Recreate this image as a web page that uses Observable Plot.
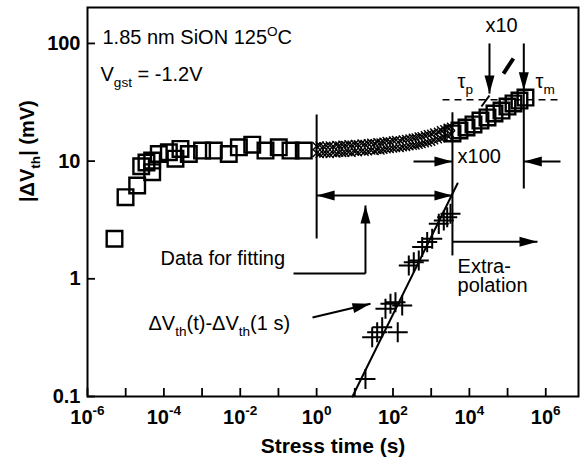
<!DOCTYPE html>
<html><head><meta charset="utf-8">
<script src="https://cdn.jsdelivr.net/npm/d3@7"></script>
<script src="https://cdn.jsdelivr.net/npm/@observablehq/plot@0.6"></script>
<style>body{margin:0;background:#fff;} svg{display:block;}</style>
</head><body><div id="chart"></div>
<script>
// ---- data ----
const xTicks = [1e-6,1e-5,1e-4,1e-3,1e-2,1e-1,1,10,100,1e3,1e4,1e5,1e6];
const xLabelTicks = [1e-6,1e-4,1e-2,1,100,1e4,1e6];
const xTickLabels = ["10^{-6}","10^{-4}","10^{-2}","10^{0}","10^{2}","10^{4}","10^{6}"];
const yTicks = [0.1,1,10,100];
const yTickLabels = ["0.1","1","10","100"];

// |dVth| squares
const squareT = [5.09e-6,9.9e-6,2.0e-5,2.55e-5,3.5e-5,4.94e-5,4.94e-5,7.36e-5,1.35e-4,2.01e-4,2.72e-4,4.5e-4,1.0e-3,2.03e-3,5.0e-3,9.2e-3,0.0206,0.0458,0.102,0.207,0.461,
  3.61e3,5.5e3,8.4e3,1.28e4,1.95e4,2.98e4,4.54e4,6.93e4,9.95e4,1.43e5,2.05e5,2.94e5];
const squareV = [2.19,4.94,6.21,9.05,9.73,10.1,8.05,11.5,11.9,10.5,12.7,11.5,12.3,12.3,11.5,13.1,13.8,12.3,13.1,12.3,12.3,
  17.2,18.2,19.3,20.5,22.1,23.5,25.4,26.9,29.1,30.9,32.7,34.7];

// dense "x" band (data for fitting)
const bandT = [1,1.2,1.5,1.8,2.2,2.7,3.3,3.9,4.7,5.6,6.8,8.2,10,12,15,18,22,27,33,39,47,56,68,82,100,120,150,180,220,270,330,390,470,560,680,820,1000,1200,1500,1800,2200,2700,3300];
const bandUpper = [13.4,13.6,13.3,13.5,13.6,13.4,13.7,13.6,13.8,13.7,13.9,13.8,14.0,13.9,14.1,14.0,14.2,14.3,14.2,14.5,14.4,14.6,14.8,14.7,15.0,15.1,15.0,15.3,15.4,15.6,15.8,15.9,16.2,16.3,16.6,16.9,17.1,17.5,17.8,18.3,18.7,19.2,19.6];
const bandLower = [11.7,11.5,11.6,11.6,11.5,11.7,11.6,11.8,11.7,11.8,11.9,11.8,12.0,11.9,12.1,12.0,12.1,12.3,12.2,12.4,12.3,12.5,12.6,12.7,12.8,12.9,12.9,13.1,13.2,13.4,13.5,13.6,13.8,14.0,14.2,14.4,14.6,15.0,15.3,15.6,16.0,16.4,16.8];

// dVth(t)-dVth(1s) pluses
const plusT = [19.0,28.5,38.5,52.1,133,63.5,85.9,116,174,259,350,473,581,785,1062,1581,2138,2624,3199];
const plusV = [0.141,0.319,0.352,0.388,0.352,0.556,0.614,0.633,0.593,1.30,1.38,1.43,1.86,2.05,2.19,2.93,3.13,3.34,3.57];

// power-law fit line end points
const fitT = [8.69, 4.89e3];
const fitV = [0.1, 6.46];

// annotation segments: [t1, v1, t2, v2]
const segments = [
  [1, 2.2, 1, 24.9],
  [3.6e3, 1.58, 3.6e3, 26.0],
  [2.66e5, 5.85, 2.66e5, 100],
  [3.36e4, 100, 3.36e4, 37.5],
  [3.36e4, 36.1, 2.07e4, 29.1],
  [344, 9.92, 3.6e3, 9.92],
  [2.43e6, 9.92, 2.66e5, 9.92],
  [1, 5.1, 3.6e3, 5.1],
  [0.248, 1.11, 19.0, 1.11],
  [19.0, 1.11, 19.0, 4.2],
  [3.6e3, 2.07, 6.07e5, 2.07],
  [0.78, 0.469, 25.7, 0.614]
];
const slashSeg = [[7.8e4, 55.5, 1.42e5, 74.5]];
const dashedSeg = [[1.98e3, 33.2, 2.74e6, 33.2]];
// arrow heads: [t, v, direction in degrees clockwise from up]
const heads = [
  [3.36e4, 37.5, 180], [2.66e5, 40, 180],
  [3.6e3, 9.92, 90], [2.66e5, 9.92, 270],
  [1, 5.1, 270], [3.6e3, 5.1, 90],
  [19.0, 4.2, 0], [6.07e5, 2.07, 90],
  [25.7, 0.614, 76]
];

// text annotations
const noteLabels = ["1.85 nm SiON 125^{O}C","V_{gst} = -1.2V","x10","τ_{p}","τ_{m}","x100","Data for fitting","ΔV_{th}(t)-ΔV_{th}(1 s)","Extra-\npolation"];
const noteT = [2.47e-6,2.19e-6,2.63e4,4.9e3,5.4e5,4.9e3,8.2e-5,3.95e-5,4.9e3];
const noteV = [98,48.4,124,42.2,42.2,9.56,1.30,0.364,0.766];

const xLabel = "Stress time (s)";
const yLabel = "|ΔV_{th}| (mV)";

// ---- build ----
const font = "'Liberation Sans', Arial, Helvetica, sans-serif";
const W = 583, H = 458, mt = 7, mr = 5, mb = 62, ml = 87;
const innerH = H - mt - mb, innerW = W - ml - mr;

const squares = squareT.map((t,i)=>({t, v: squareV[i]}));
const band = bandT.flatMap((t,i)=>[{t, v: bandUpper[i]}, {t, v: bandLower[i]}]);
const pluses = plusT.map((t,i)=>({t, v: plusV[i]}));
const fit = fitT.map((t,i)=>({t, v: fitV[i]}));
const seg = a => a.map(([x1,y1,x2,y2])=>({x1,y1,x2,y2}));
const notes = noteLabels.map((label,i)=>({label, t: noteT[i], v: noteV[i]}));
const xLab = new Map(xLabelTicks.map((t,i)=>[t, xTickLabels[i]]));
const yLab = new Map(yTicks.map((t,i)=>[t, yTickLabels[i]]));

function headSymbol(deg) {
  const a = deg * Math.PI / 180, c = Math.cos(a), s = Math.sin(a);
  const pts = [[0,0],[-5,18],[5,18]].map(([px,py]) => [px*c - py*s, px*s + py*c]);
  return {draw(ctx) { ctx.moveTo(...pts[0]); ctx.lineTo(...pts[1]); ctx.lineTo(...pts[2]); ctx.closePath(); }};
}
const headMarks = heads.map(([t,v,d]) => Plot.dot([{t,v}], {x:"t", y:"v", r: 5, symbol: headSymbol(d), fill: "black", stroke: "none"}));

const chart = Plot.plot({
  width: W, height: H,
  marginTop: mt, marginRight: mr, marginBottom: mb, marginLeft: ml,
  style: {fontFamily: font, background: "white", color: "black", overflow: "visible"},
  x: {type: "log", domain: [1e-6, 7.2e6], label: null},
  y: {type: "log", domain: [0.1, 202], label: null},
  marks: [
    Plot.frame({stroke: "black", strokeWidth: 2}),
    Plot.ruleX(xTicks, {x: d=>d, insetTop: innerH - 8, stroke: "black", strokeWidth: 1.8}),
    Plot.ruleY(yTicks, {y: d=>d, insetRight: innerW - 8, stroke: "black", strokeWidth: 1.8}),
    Plot.axisX(xLabelTicks, {tickSize: 0, tickPadding: 13, tickFormat: d => xLab.get(d), fontSize: 20, fontWeight: "bold", fontFamily: font, label: null}),
    Plot.axisY(yTicks, {tickSize: 0, tickPadding: 7, tickFormat: d => yLab.get(d), fontSize: 20, fontWeight: "bold", fontFamily: font, label: null}),
    Plot.dot(squares, {x:"t", y:"v", symbol: "square", r: 8.8, fill: "none", stroke: "black", strokeWidth: 2.4}),
    Plot.dot(band, {x:"t", y:"v", symbol: "times", r: 3.7, stroke: "black", strokeWidth: 1.4}),
    Plot.dot(pluses, {x:"t", y:"v", symbol: "plus", r: 6.5, stroke: "black", strokeWidth: 2}),
    Plot.line(fit, {x:"t", y:"v", stroke: "black", strokeWidth: 2}),
    Plot.link(seg(segments), {x1:"x1", y1:"y1", x2:"x2", y2:"y2", stroke: "black", strokeWidth: 2}),
    Plot.link(seg(slashSeg), {x1:"x1", y1:"y1", x2:"x2", y2:"y2", stroke: "black", strokeWidth: 4}),
    Plot.link(seg(dashedSeg), {x1:"x1", y1:"y1", x2:"x2", y2:"y2", stroke: "black", strokeWidth: 1.4, strokeDasharray: "7,5"}),
    ...headMarks,
    Plot.text(notes, {x:"t", y:"v", text:"label", textAnchor: "start", lineAnchor: "bottom", lineHeight: 0.95, fontSize: 20, fontFamily: font, fill: "black"}),
    Plot.text([xLabel], {text: d=>d, frameAnchor: "bottom", dy: 56, lineAnchor: "bottom", fontSize: 21, fontWeight: "bold", fontFamily: font, fill: "black"}),
    Plot.text([yLabel], {text: d=>d, frameAnchor: "left", dx: -60, rotate: -90, lineAnchor: "middle", fontSize: 20, fontWeight: "bold", fontFamily: font, fill: "black"})
  ]
});
document.getElementById("chart").appendChild(chart);

// rich text: _{sub} and ^{sup}
const NS = "http://www.w3.org/2000/svg";
chart.querySelectorAll("text").forEach(t => {
  const s = t.textContent;
  if (!/[_^]\{/.test(s)) return;
  const fs = parseFloat(getComputedStyle(t).fontSize) || 20;
  const parts = [];
  const re = /([_^])\{([^}]*)\}/g;
  let last = 0, m;
  while ((m = re.exec(s))) {
    if (m.index > last) parts.push({s: s.slice(last, m.index), k: ""});
    parts.push({s: m[2], k: m[1]});
    last = re.lastIndex;
  }
  if (last < s.length) parts.push({s: s.slice(last), k: ""});
  while (t.firstChild) t.removeChild(t.firstChild);
  let shift = 0;
  for (const p of parts) {
    const ts = document.createElementNS(NS, "tspan");
    const target = p.k === "_" ? 0.3 * fs : p.k === "^" ? -0.42 * fs : 0;
    if (target - shift) ts.setAttribute("dy", (target - shift).toFixed(2));
    shift = target;
    if (p.k) ts.setAttribute("font-size", (0.68 * fs).toFixed(1));
    ts.textContent = p.s;
    t.appendChild(ts);
  }
});
</script></body></html>
